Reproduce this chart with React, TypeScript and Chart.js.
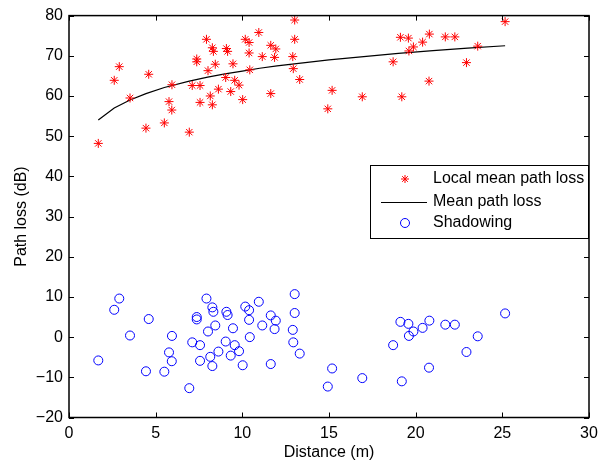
import React, { useEffect, useRef } from 'react';
import { Chart, registerables } from 'chart.js';

Chart.register(...registerables);

// ---- data ----
const distance = [
  1.69, 2.61, 2.90, 3.52, 4.60, 4.44, 5.50, 5.77, 5.93, 5.94,
  6.94, 7.11, 7.37, 7.37, 7.56, 7.56, 7.93, 8.02, 8.15, 8.27,
  8.27, 8.33, 8.44, 8.62, 9.08, 9.15, 9.04, 9.33, 9.46, 9.56,
  9.81, 10.02, 10.17, 10.39, 10.39, 10.43, 10.95, 11.15, 11.64, 11.93,
  11.86, 11.64, 13.02, 13.02, 12.91, 12.94, 13.31, 15.18, 14.93, 16.92,
  18.70, 19.12, 19.20, 19.58, 19.61, 19.87, 20.40, 20.79, 20.77, 21.71,
  22.26, 22.93, 23.58, 25.16,
];

const localMeanPathLoss = [
  48.2, 63.9, 67.3, 59.5, 65.4, 52.0, 53.3, 58.6, 56.5, 62.8,
  51.0, 62.6, 69.2, 68.5, 58.4, 62.6, 74.1, 66.3, 60.0, 57.8,
  72.0, 71.1, 67.9, 61.7, 71.8, 71.1, 64.6, 61.1, 68.0, 63.9,
  62.7, 59.1, 74.1, 73.3, 70.7, 66.5, 75.8, 69.8, 72.6, 71.7,
  69.6, 60.6, 78.9, 74.1, 69.8, 66.8, 64.1, 61.4, 56.8, 59.8,
  68.5, 74.6, 59.8, 74.4, 71.2, 72.2, 73.4, 75.4, 63.7, 74.7,
  74.7, 68.3, 72.4, 78.5,
];

const shadowing = [
  -5.8, 6.8, 9.6, 0.4, 4.5, -8.5, -8.6, -3.8, -6.0, 0.3,
  -12.7, -1.3, 5.0, 4.4, -5.9, -2.0, 9.6, 1.4, -4.9, -7.2,
  7.4, 6.3, 2.9, -3.6, 6.3, 5.5, -1.1, -4.6, 2.2, -2.0,
  -3.5, -7.0, 7.6, 6.7, 4.3, 0.0, 8.8, 2.9, 5.4, 4.1,
  2.0, -6.7, 10.7, 6.0, 1.8, -1.3, -4.1, -7.8, -12.3, -10.2,
  -2.0, 3.8, -11.0, 3.3, 0.3, 1.4, 2.3, 4.1, -7.6, 3.1,
  3.1, -3.7, 0.2, 5.9,
];

const meanDistance = [1.69, 2.61, 3.52, 4.44, 5.5, 6.94, 8.0, 9.0, 10.0, 11.0, 12.0, 13.0, 15.0, 17.0, 19.0, 21.0, 23.0, 25.16];
const meanPathLoss = [54.0, 57.0, 59.0, 60.6, 62.1, 63.7, 64.7, 65.5, 66.2, 66.9, 67.5, 68.0, 69.0, 69.8, 70.6, 71.3, 71.9, 72.5];

const xTicks = [0, 5, 10, 15, 20, 25, 30];
const yTicks = [-20, -10, 0, 10, 20, 30, 40, 50, 60, 70, 80];

const legendLabels = ['Local mean path loss', 'Mean path loss', 'Shadowing'];
const xTitle = 'Distance (m)';
const yTitle = 'Path loss (dB)';

const FONT = "'Liberation Sans', Arial, Helvetica, sans-serif";
const FS = 16;

const boxPlugin = {
  id: 'matlabBox',
  afterDraw(chart: any) {
    const { ctx, chartArea: a, scales } = chart;
    ctx.save();
    ctx.strokeStyle = '#000';
    ctx.lineWidth = 1;
    const tl = 5;
    ctx.beginPath();
    for (const v of xTicks) {
      const px = Math.round(scales.x.getPixelForValue(v)) + 0.5;
      ctx.moveTo(px, a.bottom); ctx.lineTo(px, a.bottom - tl);
      ctx.moveTo(px, a.top); ctx.lineTo(px, a.top + tl);
    }
    for (const v of yTicks) {
      const py = Math.round(scales.y.getPixelForValue(v)) + 0.5;
      ctx.moveTo(a.left, py); ctx.lineTo(a.left + tl, py);
      ctx.moveTo(a.right, py); ctx.lineTo(a.right - tl, py);
    }
    ctx.stroke();
    ctx.lineWidth = 1.5;
    ctx.strokeRect(a.left, a.top, a.right - a.left, a.bottom - a.top);

    // legend
    const lx = 370, ly = 165, lw = 218, lh = 73;
    ctx.fillStyle = '#fff';
    ctx.fillRect(lx, ly, lw, lh);
    ctx.lineWidth = 1;
    ctx.strokeStyle = '#000';
    ctx.strokeRect(lx + 0.5, ly + 0.5, lw, lh);
    const rows = [179, 202, 223];
    // star
    ctx.strokeStyle = '#ff0000';
    ctx.beginPath();
    const r = 4;
    const cx = 405;
    for (let k = 0; k < 4; k++) {
      const ang = (k * Math.PI) / 4;
      ctx.moveTo(cx - Math.cos(ang) * r, rows[0] - Math.sin(ang) * r);
      ctx.lineTo(cx + Math.cos(ang) * r, rows[0] + Math.sin(ang) * r);
    }
    ctx.stroke();
    // line
    ctx.strokeStyle = '#000';
    ctx.beginPath();
    ctx.moveTo(381, rows[1] + 0.5);
    ctx.lineTo(427, rows[1] + 0.5);
    ctx.stroke();
    // circle
    ctx.strokeStyle = '#0000ff';
    ctx.beginPath();
    ctx.arc(cx, rows[2], 4.5, 0, Math.PI * 2);
    ctx.stroke();
    ctx.fillStyle = '#000';
    ctx.font = `${FS}px ${FONT}`;
    ctx.textBaseline = 'middle';
    ctx.textAlign = 'left';
    legendLabels.forEach((t, i) => ctx.fillText(t, 433, rows[i]));
    ctx.restore();
  },
};

export default function App() {
  const ref = useRef<HTMLCanvasElement>(null);
  useEffect(() => {
    if (!ref.current) return;
    Chart.defaults.font.family = FONT;
    Chart.defaults.font.size = FS;
    Chart.defaults.color = '#000';
    const chart = new Chart(ref.current, {
      type: 'scatter',
      data: {
        datasets: [
          {
            label: legendLabels[0],
            data: distance.map((d, i) => ({ x: d, y: localMeanPathLoss[i] })),
            pointStyle: 'star',
            pointRadius: 4.5,
            borderColor: '#ff0000',
            backgroundColor: '#ff0000',
            borderWidth: 1,
            showLine: false,
          },
          {
            label: legendLabels[1],
            type: 'line',
            data: meanDistance.map((d, i) => ({ x: d, y: meanPathLoss[i] })),
            borderColor: '#000',
            borderWidth: 1.2,
            pointRadius: 0,
            showLine: true,
            tension: 0,
            fill: false,
          },
          {
            label: legendLabels[2],
            data: distance.map((d, i) => ({ x: d, y: shadowing[i] })),
            pointStyle: 'circle',
            pointRadius: 4.5,
            borderColor: '#0000ff',
            backgroundColor: 'rgba(0,0,0,0)',
            borderWidth: 1,
            showLine: false,
          },
        ] as any,
      },
      options: {
        animation: false,
        responsive: false,
        devicePixelRatio: 1,
        layout: { padding: { left: 0, right: 25, top: 7.5, bottom: 0 } },
        plugins: { legend: { display: false }, tooltip: { enabled: false } },
        scales: {
          x: {
            type: 'linear',
            min: 0,
            max: 30,
            grid: { display: false, drawTicks: false },
            border: { display: false },
            ticks: { stepSize: 5, padding: 6, autoSkip: false, font: { size: FS } },
            title: { display: true, text: xTitle, font: { size: FS }, padding: { top: 0, bottom: 4 } },
            afterFit: (s: any) => { s.height = 48.5; },
          },
          y: {
            type: 'linear',
            min: -20,
            max: 80,
            grid: { display: false, drawTicks: false },
            border: { display: false },
            ticks: {
              stepSize: 10,
              padding: 6,
              autoSkip: false,
              font: { size: FS },
              callback: (v: any) => String(v).replace('-', '\u2212'),
            },
            title: { display: true, text: yTitle, font: { size: FS }, padding: { top: 12, bottom: 0 } },
            afterFit: (s: any) => { s.width = 69; },
          },
        },
      },
      plugins: [boxPlugin],
    });
    return () => chart.destroy();
  }, []);
  return (
    <div style={{ position: 'absolute', left: 0, top: 0, width: 614, height: 466, background: '#fff' }}>
      <canvas ref={ref} width={614} height={466} style={{ display: 'block', width: 614, height: 466 }} />
    </div>
  );
}
